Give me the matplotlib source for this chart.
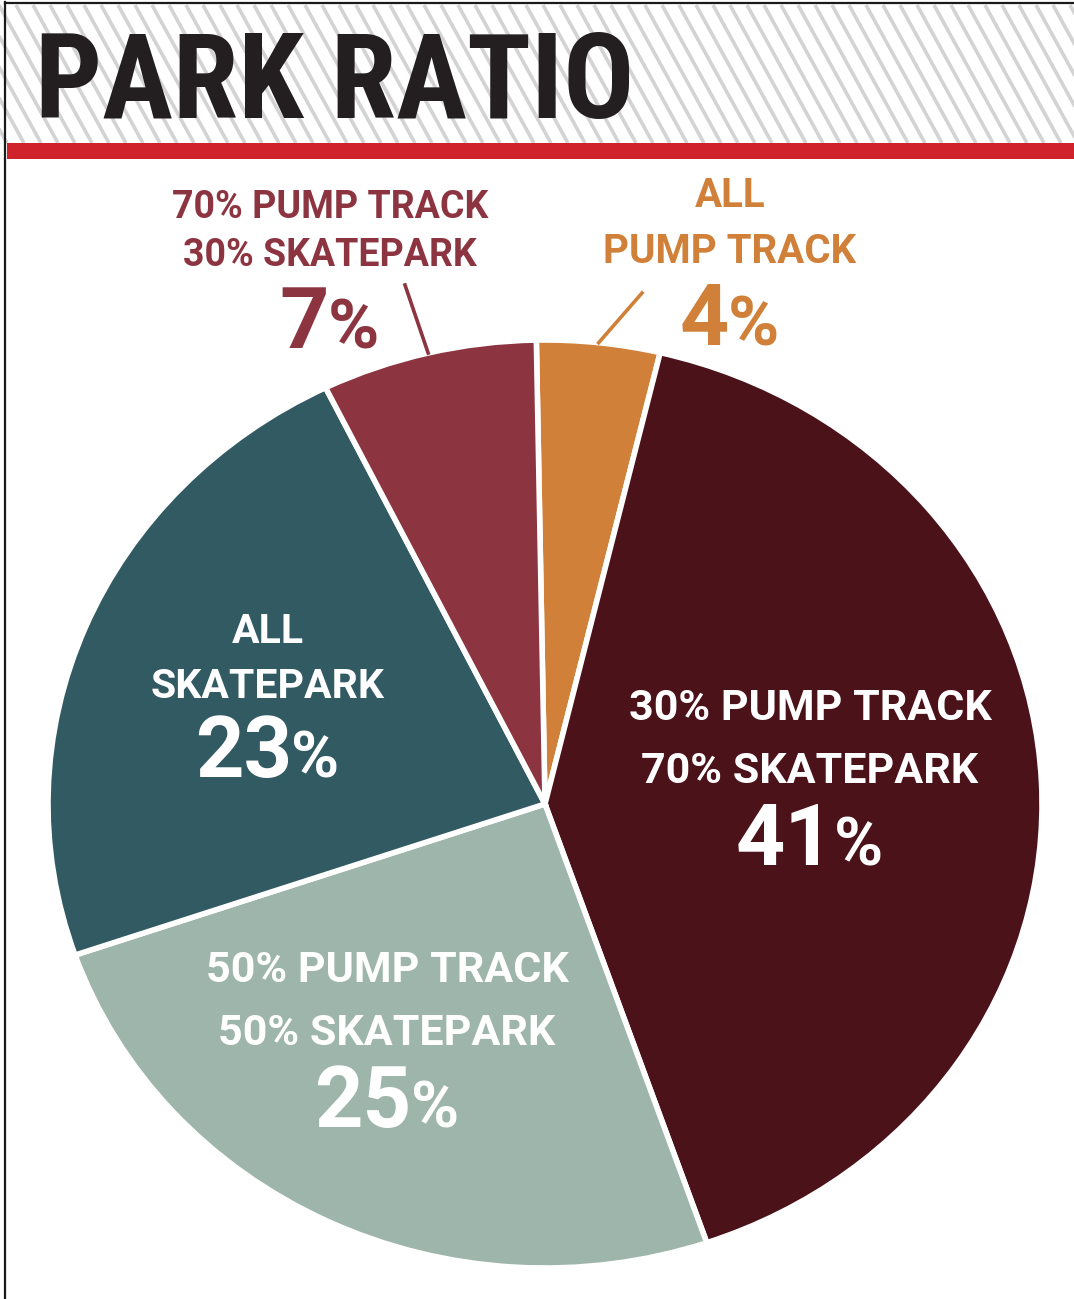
import numpy as np
import matplotlib.pyplot as plt
from matplotlib import font_manager
from matplotlib.patches import Rectangle
from matplotlib.collections import LineCollection

# park mix shares, clockwise from the top
shares = [4, 41, 25, 23, 7]
mix_labels = ['ALL\nPUMP TRACK', '30% PUMP TRACK\n70% SKATEPARK',
              '50% PUMP TRACK\n50% SKATEPARK', 'ALL\nSKATEPARK',
              '70% PUMP TRACK\n30% SKATEPARK']
colors = ['#D08038', '#4B121A', '#9DB5AA', '#325A63', '#8C3440']

# label layout in pixels: centre x, first baseline, line pitch, size, number baseline
label_x = [730, 810, 387, 268, 330]
label_base = [207, 720, 982, 643, 218]
label_pitch = [56, 63, 63, 55, 48]
label_size = [29, 31, 31, 29.5, 27]
num_base = [345, 865, 1127, 777, 348]
num_size = [62, 62, 61, 61, 62]
pct_size = [50, 48, 47, 47, 50]
inside = [False, True, True, True, False]
leader_end = {0: (642, 293), 4: (405, 285)}

W, H = 1074, 1299
fig = plt.figure(figsize=(W / 100, H / 100), dpi=100)

LABEL_FONT = ['Roboto', 'DejaVu Sans']


def condensed_bold():
    # look for a narrow bold face for the heading
    prefs = ['robotocondensed', 'liberationsansnarrow', 'dejavusanscondensed', 'condensed', 'narrow']
    found = []
    for f in font_manager.fontManager.ttflist:
        fn = f.fname.lower().replace('-', '').replace('_', '')
        if 'italic' in fn or 'oblique' in fn or 'bold' not in fn:
            continue
        for rank, key in enumerate(prefs):
            if key in fn:
                found.append((rank, len(fn), f.fname))
                break
    if found:
        return font_manager.FontProperties(fname=sorted(found)[0][2])
    return font_manager.FontProperties(family='Roboto', weight='bold')


# pie, stretched a little wider than tall
left, right, top, bottom = 48, 1042, 340, 1268
pie_ax = fig.add_axes([left / W, (H - bottom) / H, (right - left) / W, (bottom - top) / H])
start = 91
pie_ax.pie(shares, colors=colors, startangle=start, counterclock=False, radius=1,
           wedgeprops=dict(edgecolor='white', linewidth=4))
pie_ax.set_aspect('auto')
pie_ax.set_xlim(-1, 1)
pie_ax.set_ylim(-1, 1)
pie_ax.axis('off')

# overlay in pixel units for header, labels and leader lines
bg = fig.add_axes([0, 0, 1, 1])
bg.set_xlim(0, W)
bg.set_ylim(H, 0)
bg.axis('off')

# header: hatched band, red rule, frame lines
band = Rectangle((7, 5), W - 7, 138, facecolor='white', edgecolor='none', zorder=1)
bg.add_patch(band)
xs = np.arange(-120, W + 20, 17)
segs = [[(x, 5), (x + 0.55 * 138, 143)] for x in xs]
hatch = LineCollection(segs, colors='#D3D3D3', linewidths=2.6, zorder=2)
hatch.set_clip_path(band)
bg.add_collection(hatch)
bg.add_patch(Rectangle((7, 143), W - 7, 16, facecolor='#D0222A', edgecolor='none', zorder=3))
bg.plot([5, 5], [2, H], color='#1A1A1A', lw=1.6, zorder=4)
bg.plot([5, W], [3, 3], color='#1A1A1A', lw=1.6, zorder=4)

renderer = fig.canvas.get_renderer()

title_prop = condensed_bold()
title = bg.text(35, 118, 'PARK RATIO', fontproperties=title_prop, fontsize=84,
                color='#231F20', ha='left', va='baseline', zorder=5)
tw = title.get_window_extent(renderer).width
title.set_fontsize(84 * 600 / tw)

cx, cy = (left + right) / 2, (top + bottom) / 2
rx, ry = (right - left) / 2, (bottom - top) / 2


def big_number(x, base, value, size_n, size_p, color):
    t1 = bg.text(0, base, str(value), ha='right', va='baseline', fontsize=size_n,
                 family=LABEL_FONT, weight='bold', color=color, zorder=6)
    t2 = bg.text(0, base, '%', ha='left', va='baseline', fontsize=size_p,
                 family=LABEL_FONT, weight='bold', color=color, zorder=6)
    w1 = t1.get_window_extent(renderer).width
    w2 = t2.get_window_extent(renderer).width
    split = x - (w2 - w1) / 2
    t1.set_x(split)
    t2.set_x(split - 1)


cum = 0
for i, share in enumerate(shares):
    color = 'white' if inside[i] else colors[i]
    for j, line in enumerate(mix_labels[i].split('\n')):
        bg.text(label_x[i], label_base[i] + j * label_pitch[i], line, ha='center',
                va='baseline', fontsize=label_size[i], family=LABEL_FONT,
                weight='bold', color=color, zorder=6)
    big_number(label_x[i], num_base[i], share, num_size[i], pct_size[i], color)
    if i in leader_end:
        theta = np.deg2rad(start - 360 * (cum + share / 2) / 100)
        px, py = cx + rx * np.cos(theta), cy - ry * np.sin(theta)
        ex, ey = leader_end[i]
        bg.plot([px, ex], [py, ey], color=colors[i], lw=2.6, zorder=6)
    cum += share

fig.savefig('out.png', dpi=100)
